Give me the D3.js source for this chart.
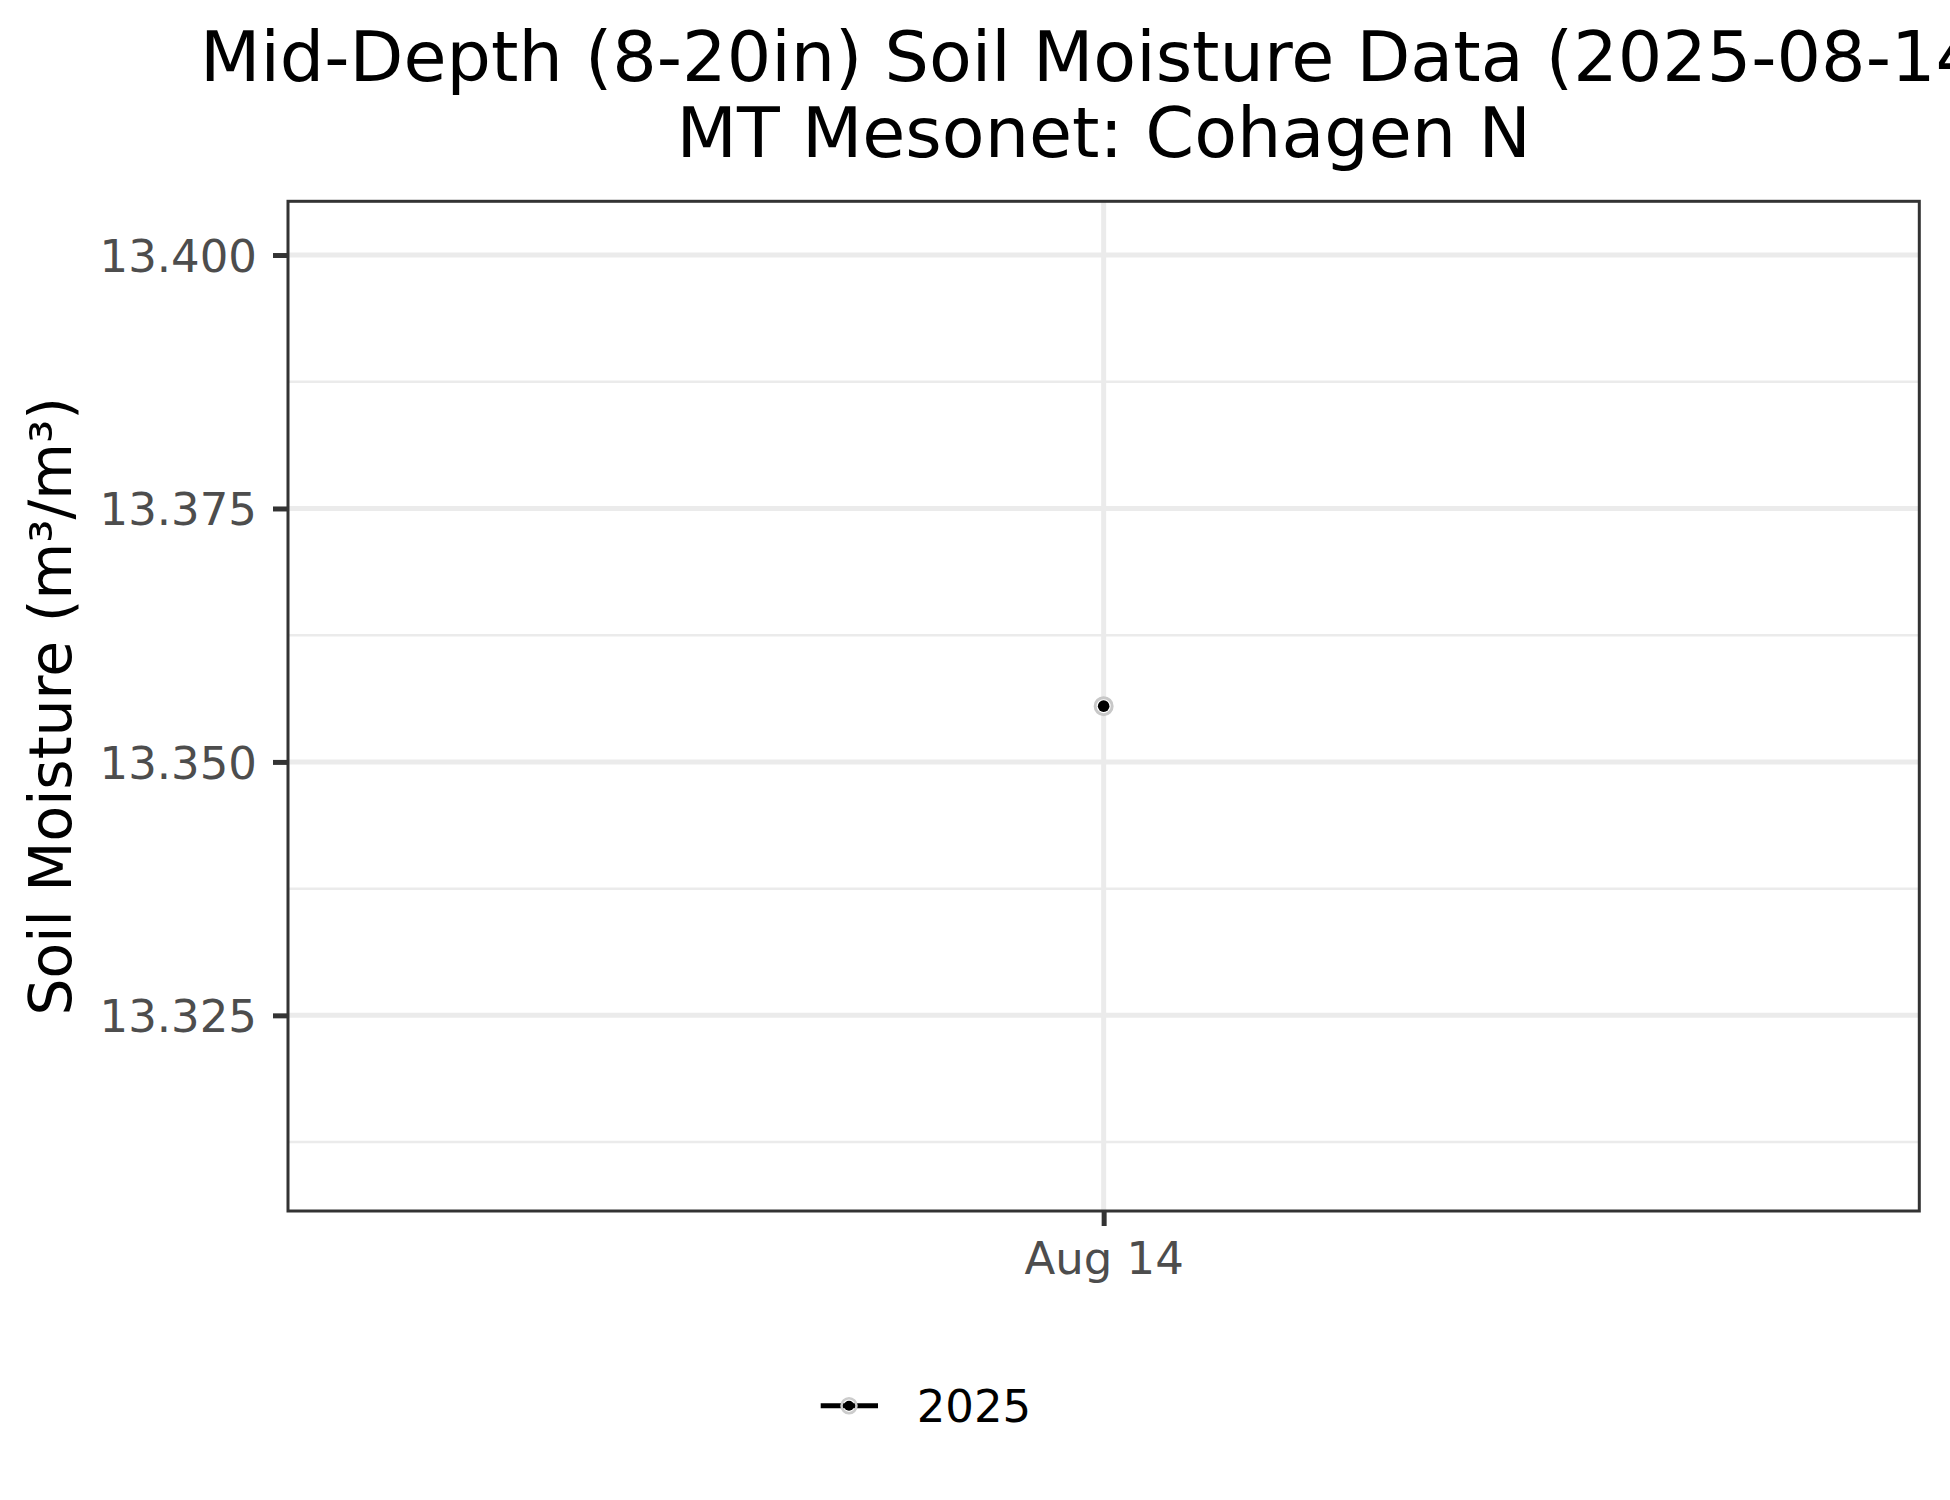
<!DOCTYPE html>
<html>
<head>
<meta charset="utf-8">
<script src="https://cdn.jsdelivr.net/npm/d3@7"></script>
<style>
  html, body { margin: 0; padding: 0; background: #ffffff; }
  svg { display: block; font-family: "DejaVu Sans", sans-serif; }
</style>
</head>
<body>
<svg id="chart" width="1950" height="1500"></svg>
<script>
// ---- data ----
const dates = ["2025-08-14"];
const values = [13.3555];
const seriesName = "2025";
const yTicks = [13.325, 13.350, 13.375, 13.400];
const yMinorTicks = [13.3125, 13.3375, 13.3625, 13.3875];
const yDomain = [13.3057, 13.4053];
const xTickDates = ["2025-08-14"];
const titleLines = ["Mid-Depth (8-20in) Soil Moisture Data (2025-08-14)", "MT Mesonet: Cohagen N"];
const yAxisTitle = "Soil Moisture (m³/m³)";

// ---- layout ----
const W = 1950, H = 1500;
const panel = { left: 288, top: 201.3, right: 1919.3, bottom: 1211 };
const parse = d3.timeParse("%Y-%m-%d");
const pts = dates.map((d, i) => ({ date: parse(dates[i]), value: values[i] }));

const svg = d3.select("#chart");
svg.append("rect").attr("width", W).attr("height", H).attr("fill", "#ffffff");

const d0 = pts[0].date;
const x = d3.scaleTime()
  .domain([d3.timeDay.offset(d0, -1), d3.timeDay.offset(d0, 1)])
  .range([panel.left, panel.right]);
const y = d3.scaleLinear().domain(yDomain).range([panel.bottom, panel.top]);

svg.append("rect")
  .attr("x", panel.left).attr("y", panel.top)
  .attr("width", panel.right - panel.left).attr("height", panel.bottom - panel.top)
  .attr("fill", "#ffffff");

const grid = svg.append("g");
grid.selectAll("line.minor").data(yMinorTicks).join("line")
  .attr("x1", panel.left).attr("x2", panel.right)
  .attr("y1", d => y(d)).attr("y2", d => y(d))
  .attr("stroke", "#EBEBEB").attr("stroke-width", 2.5);
grid.selectAll("line.majory").data(yTicks).join("line")
  .attr("x1", panel.left).attr("x2", panel.right)
  .attr("y1", d => y(d)).attr("y2", d => y(d))
  .attr("stroke", "#EBEBEB").attr("stroke-width", 5);
grid.selectAll("line.majorx").data(xTickDates.map(parse)).join("line")
  .attr("x1", d => x(d)).attr("x2", d => x(d))
  .attr("y1", panel.top).attr("y2", panel.bottom)
  .attr("stroke", "#EBEBEB").attr("stroke-width", 5);

const lineGen = d3.line().x(d => x(d.date)).y(d => y(d.value));
svg.append("path").datum(pts).attr("d", lineGen)
  .attr("fill", "none").attr("stroke", "#000").attr("stroke-width", 5);

const pg = svg.append("g");
pg.selectAll("circle.ring").data(pts).join("circle")
  .attr("cx", d => x(d.date)).attr("cy", d => y(d.value)).attr("r", 8.5)
  .attr("fill", "#ffffff").attr("stroke", "#C8C8C8").attr("stroke-width", 3);
pg.selectAll("circle.dot").data(pts).join("circle")
  .attr("cx", d => x(d.date)).attr("cy", d => y(d.value)).attr("r", 5.8)
  .attr("fill", "#000000");

svg.append("rect")
  .attr("x", panel.left).attr("y", panel.top)
  .attr("width", panel.right - panel.left).attr("height", panel.bottom - panel.top)
  .attr("fill", "none").attr("stroke", "#333333").attr("stroke-width", 3);

// y axis
const yAxis = d3.axisLeft(y).tickValues(yTicks).tickFormat(d3.format(".3f"))
  .tickSize(15).tickPadding(16);
const gy = svg.append("g").attr("transform", `translate(${panel.left},0)`).call(yAxis);
gy.select(".domain").remove();
gy.selectAll(".tick line").attr("stroke", "#333333").attr("stroke-width", 5);
gy.selectAll(".tick text")
  .attr("fill", "#4D4D4D").attr("font-size", 45)
  .attr("font-family", "DejaVu Sans").attr("dy", "0.36em");

// x axis
const xAxis = d3.axisBottom(x).tickValues(xTickDates.map(parse))
  .tickFormat(d3.timeFormat("%b %d")).tickSize(15).tickPadding(12);
const gx = svg.append("g").attr("transform", `translate(0,${panel.bottom})`).call(xAxis);
gx.select(".domain").remove();
gx.selectAll(".tick line").attr("stroke", "#333333").attr("stroke-width", 5);
gx.selectAll(".tick text")
  .attr("fill", "#4D4D4D").attr("font-size", 45)
  .attr("font-family", "DejaVu Sans").attr("dy", null)
  .attr("y", 63).attr("dominant-baseline", "auto");

// y axis title
svg.append("text")
  .attr("transform", `translate(71,${(panel.top + panel.bottom) / 2}) rotate(-90)`)
  .attr("text-anchor", "middle").attr("font-size", 58.3).attr("fill", "#000")
  .text(yAxisTitle);

// title
const cx = (panel.left + panel.right) / 2;
svg.append("text").attr("x", cx).attr("y", 80.7)
  .attr("text-anchor", "middle").attr("font-size", 70).attr("fill", "#000")
  .text(titleLines[0]);
svg.append("text").attr("x", cx).attr("y", 156.7)
  .attr("text-anchor", "middle").attr("font-size", 70).attr("fill", "#000")
  .text(titleLines[1]);

// legend
const lg = svg.append("g");
lg.append("line").attr("x1", 820.7).attr("x2", 878).attr("y1", 1405.7).attr("y2", 1405.7)
  .attr("stroke", "#000").attr("stroke-width", 5);
lg.append("circle").attr("cx", 849).attr("cy", 1405.7).attr("r", 7.5)
  .attr("fill", "none").attr("stroke", "#CCCCCC").attr("stroke-width", 2.5);
lg.append("circle").attr("cx", 849).attr("cy", 1405.7).attr("r", 5)
  .attr("fill", "#000");
lg.append("text").attr("x", 916.7).attr("y", 1422)
  .attr("font-size", 45).attr("fill", "#000").text(seriesName);
</script>
</body>
</html>
